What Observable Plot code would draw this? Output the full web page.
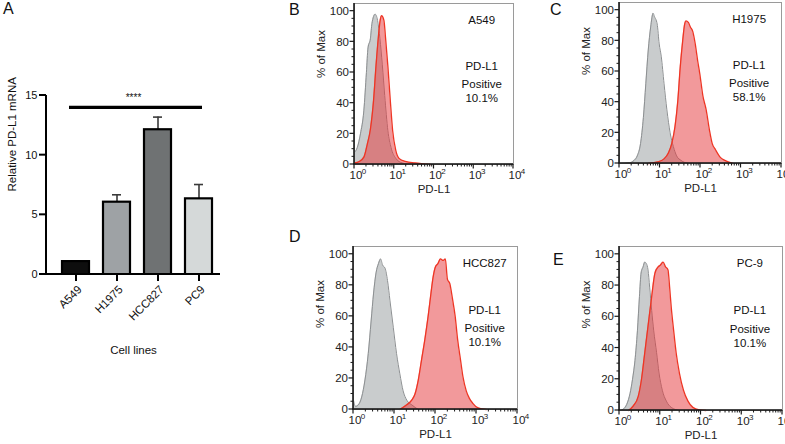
<!DOCTYPE html>
<html>
<head>
<meta charset="utf-8">
<script src="https://cdn.jsdelivr.net/npm/d3@7"></script>
<script src="https://cdn.jsdelivr.net/npm/@observablehq/plot@0.6"></script>
<style>
  html, body { margin: 0; padding: 0; background: #fff; }
  #fig { position: relative; width: 785px; height: 444px; background: #fff; overflow: hidden;
         font-family: "Liberation Sans", Arial, sans-serif; color: #222; }
  .panel { position: absolute; }
  .letter { position: absolute; font-size: 16px; line-height: 16px; color: #111; }
</style>
</head>
<body>
<div id="fig">
  <div class="letter" style="left:3px;top:1px">A</div>
  <div class="letter" style="left:289px;top:2px">B</div>
  <div class="letter" style="left:550px;top:2px">C</div>
  <div class="letter" style="left:289px;top:229px">D</div>
  <div class="letter" style="left:553px;top:252px">E</div>
</div>
<script>
const FONT = '"Liberation Sans", Arial, sans-serif';

// ---------- Panel A data ----------
const cells = ["A549", "H1975", "HCC827", "PC9"];
const mrna = [1.08, 6.06, 12.13, 6.34];
const mrnaErr = [1.15, 6.68, 13.19, 7.54];
const barColors = ["#0e0e0e", "#9ea2a5", "#6f7273", "#d5d9d9"];
const yTicksA = [0, 5, 10, 15];
const sigLevel = 14;
const sigText = "****";

// ---------- Histogram data: [log10(PD-L1), % of Max] ----------
const bGray = [[0,8],[0.07,11],[0.15,20],[0.235,35],[0.30,60],[0.34,76],[0.40,82],[0.44,92],[0.52,98],[0.58,94],[0.64,82],[0.70,65],[0.76,45],[0.84,22],[0.92,11],[1.04,4],[1.2,1],[1.44,0]];
const bRed = [[0,1],[0.12,2],[0.24,5],[0.32,13],[0.40,23],[0.48,42],[0.54,64],[0.60,83],[0.64,93],[0.68,97],[0.74,94],[0.78,83],[0.84,64],[0.90,42],[0.96,22],[1.04,9],[1.12,4],[1.28,2],[1.52,1],[1.92,0]];
const cGray = [[0,0],[0.25,0.5],[0.36,2],[0.44,5],[0.52,13],[0.59,30],[0.65,52],[0.71,74],[0.77,89],[0.83,98],[0.86,96],[0.93,91],[0.98,78],[1.03,70],[1.10,52],[1.17,35],[1.25,20],[1.33,11],[1.41,5],[1.52,2],[1.71,0]];
const cRed = [[0.71,0],[0.94,1],[1.10,3],[1.21,7],[1.29,13],[1.37,24],[1.44,41],[1.50,63],[1.56,80],[1.61,91],[1.64,93],[1.70,92],[1.75,89],[1.81,86],[1.87,78],[1.93,67],[1.98,59],[2.06,44],[2.14,35],[2.22,22],[2.29,13],[2.37,9],[2.49,4],[2.60,2],[2.80,0]];
const dGray = [[0,6],[0.05,2],[0.12,3],[0.20,8],[0.28,19],[0.36,36],[0.43,57],[0.49,75],[0.55,88],[0.61,94],[0.66,97],[0.71,93],[0.77,91],[0.83,83],[0.89,70],[0.97,53],[1.05,36],[1.13,23],[1.21,12],[1.30,6],[1.42,3],[1.58,0]];
const dRed = [[1.13,0],[1.30,3],[1.42,6],[1.50,10],[1.58,19],[1.66,32],[1.74,45],[1.82,60],[1.89,75],[1.94,85],[2.00,92],[2.06,94],[2.12,97],[2.19,96],[2.24,97],[2.29,84],[2.35,81],[2.41,72],[2.48,60],[2.54,45],[2.61,32],[2.67,21],[2.75,12],[2.83,7],[2.91,4],[3.04,1],[3.24,0]];
const eGray = [[0.02,0],[0.10,1],[0.18,4],[0.26,11],[0.32,20],[0.38,32],[0.44,51],[0.49,73],[0.53,88],[0.58,92],[0.62,95],[0.66,94],[0.70,90],[0.74,79],[0.79,64],[0.84,51],[0.91,37],[0.97,24],[1.05,13],[1.15,6],[1.27,2],[1.47,0]];
const eRed = [[0.22,0],[0.34,3],[0.46,9],[0.54,20],[0.62,37],[0.70,54],[0.79,73],[0.87,88],[0.95,92],[1.00,93],[1.07,95],[1.13,92],[1.19,90],[1.23,79],[1.27,66],[1.33,51],[1.39,37],[1.47,24],[1.57,13],[1.68,6],[1.80,2],[1.96,0.4],[2.12,0]];

const histNames = ["A549", "H1975", "HCC827", "PC-9"];
const histPositive = ["10.1%", "58.1%", "10.1%", "10.1%"];
const annLines = ["PD-L1", "Positive"];
const annX = 1585;               // PD-L1 value where the annotations sit
const annY = [94, 64, 52, 43];   // % of Max for each annotation line
const xMajor = [1, 10, 100, 1000, 10000];
const xMinor = [1, 10, 100, 1000].flatMap(d => [2,3,4,5,6,7,8,9].map(k => k * d));
const yMajor = [0, 20, 40, 60, 80, 100];
const yMinor = d3.range(5, 100, 5).filter(d => d % 20 !== 0);

const GRAY_FILL = "#c9cccd", GRAY_LINE = "#8c8f91";
const RED_FILL = "#e53337", RED_LINE = "#ee3524";
const AXIS = "#1a1a1a";

const fig = document.getElementById("fig");
function place(svg, left, top) {
  const div = document.createElement("div");
  div.className = "panel";
  div.style.left = left + "px";
  div.style.top = top + "px";
  div.appendChild(svg);
  fig.appendChild(div);
}

// ---------- Panel A ----------
const A = {width: 235, height: 444, mt: 95, mb: 170, ml: 46, mr: 15};
const AW = A.width - A.ml - A.mr, AH = A.height - A.mt - A.mb;
const rowsA = cells.map((cell, i) => ({cell, value: mrna[i], err: mrnaErr[i]}));
const plotA = Plot.plot({
  width: A.width, height: A.height,
  marginTop: A.mt, marginBottom: A.mb, marginLeft: A.ml, marginRight: A.mr,
  style: {fontFamily: FONT, fontSize: "11.5px", color: "#111", background: "transparent"},
  x: {domain: cells, paddingInner: 0.35, paddingOuter: 0.27, align: 0.667, axis: null},
  y: {domain: [0, 15], axis: null},
  color: {domain: cells, range: barColors},
  marks: [
    Plot.ruleX(rowsA, {x: "cell", y1: "value", y2: "err", stroke: "#3a3a3a", strokeWidth: 1.6}),
    Plot.tickY(rowsA, {x: "cell", y: "err", insetLeft: 9, insetRight: 9, stroke: "#3a3a3a", strokeWidth: 1.6}),
    // bar outline as a black rect under a slightly inset coloured rect
    Plot.barY(rowsA, {x: "cell", y: "value", fill: "#000", insetLeft: -1.1, insetRight: -1.1, insetTop: -1.1}),
    Plot.barY(rowsA, {x: "cell", y: "value", fill: "cell", insetLeft: 1.1, insetRight: 1.1, insetTop: 1.1}),
    // axes drawn as thin filled rects + text
    Plot.rect([0], {y1: 0, y2: 0, insetTop: -1, insetBottom: -1, insetLeft: -1, fill: "#000"}),
    Plot.rect([0], {y1: 0, y2: 15, insetLeft: -1, insetRight: AW - 1, insetBottom: -1, fill: "#000"}),
    Plot.rect(yTicksA, {y1: d => d, y2: d => d, insetTop: -1, insetBottom: -1, insetLeft: -7, insetRight: AW, fill: "#000"}),
    Plot.text(yTicksA, {y: d => d, text: d => String(d), frameAnchor: "left", textAnchor: "end", dx: -9, fontSize: 11}),
    Plot.rect(cells, {x: d => d, y1: 0, y2: 0, insetTop: -1, insetBottom: -7,
                      insetLeft: (AW * 0.6) , insetRight: 0, fill: "none"}),
    Plot.tickX(cells, {x: d => d, insetTop: AH, insetBottom: -7, stroke: "#000", strokeWidth: 2}),
    Plot.text(cells, {x: d => d, text: d => d, frameAnchor: "bottom", textAnchor: "end", lineAnchor: "middle", rotate: -45, dx: 4, dy: 13, fontSize: 11.5}),
    Plot.ruleY([sigLevel], {x1: () => cells[0], x2: () => cells[cells.length - 1], insetLeft: 7, insetRight: 10, stroke: "#000", strokeWidth: 3.3}),
    Plot.text([sigText], {text: d => d, y: [14.8], fontSize: 10}),
    Plot.text(["Cell lines"], {text: d => d, frameAnchor: "bottom", lineAnchor: "middle", dy: 76, fontSize: 11.5}),
    Plot.text(["Relative PD-L1 mRNA"], {text: d => d, frameAnchor: "left", rotate: -90, dx: -34.5, dy: 6.5, fontSize: 11.5})
  ]
});
place(plotA, 0, 0);

// ---------- Histogram panels ----------
function hist({gray, red, idx, width, height, mt, mr, mb, ml, labelDy}) {
  const W = width - ml - mr, H = height - mt - mb;
  const rows = arr => arr.map(([l, v]) => ({x: 10 ** l, v}));
  const ann = [histNames[idx], ...annLines, histPositive[idx]];
  return Plot.plot({
    width, height, marginTop: mt, marginRight: mr, marginBottom: mb, marginLeft: ml,
    style: {fontFamily: FONT, fontSize: "11.5px", color: "#222", background: "transparent"},
    x: {type: "log", domain: [1, 1e4], axis: null},
    y: {domain: [0, 105], axis: null},
    marks: [
      Plot.areaY(rows(gray), {x: "x", y: "v", fill: GRAY_FILL, curve: "monotone-x"}),
      Plot.lineY(rows(gray), {x: "x", y: "v", stroke: GRAY_LINE, strokeWidth: 1, curve: "monotone-x"}),
      Plot.areaY(rows(red), {x: "x", y: "v", fill: RED_FILL, fillOpacity: 0.5, curve: "monotone-x"}),
      Plot.lineY(rows(red), {x: "x", y: "v", stroke: RED_LINE, strokeWidth: 1.3, curve: "monotone-x"}),
      Plot.frame({stroke: "#9a9a9a", strokeWidth: 1}),
      // black left and bottom axis lines (filled rects)
      Plot.rect([0], {y1: 0, y2: 105, insetLeft: -0.8, insetRight: W - 0.8, fill: AXIS}),
      Plot.rect([0], {y1: 0, y2: 0, insetTop: -0.8, insetBottom: -0.8, insetLeft: -0.8, fill: AXIS}),
      // y ticks + labels
      Plot.rect(yMajor, {y1: d => d, y2: d => d, insetTop: -0.6, insetBottom: -0.6, insetLeft: -4.5, insetRight: W, fill: AXIS}),
      Plot.rect(yMinor, {y1: d => d, y2: d => d, insetTop: -0.5, insetBottom: -0.5, insetLeft: -2.5, insetRight: W, fill: AXIS}),
      Plot.text(yMajor, {y: d => d, text: d => String(d), frameAnchor: "left", textAnchor: "end", dx: -5.5, fontSize: 11.5}),
      // x ticks + labels (10 with superscript exponent)
      Plot.rect(xMajor, {x1: d => d, x2: d => d, insetLeft: -0.6, insetRight: -0.6, insetTop: H, insetBottom: -4.5, fill: AXIS}),
      Plot.rect(xMinor, {x1: d => d, x2: d => d, insetLeft: -0.5, insetRight: -0.5, insetTop: H, insetBottom: -2.5, fill: AXIS}),
      Plot.text(xMajor, {x: d => d, text: () => "10", frameAnchor: "bottom", lineAnchor: "middle", dx: 1.5, dy: 11, fontSize: 11.5}),
      Plot.text(xMajor, {x: d => d, text: d => String(Math.round(Math.log10(d))), frameAnchor: "bottom", lineAnchor: "middle", dx: 9.5, dy: 7, fontSize: 8}),
      // axis titles
      Plot.text(["% of Max"], {text: d => d, frameAnchor: "left", rotate: -90, dx: -33, dy: labelDy, fontSize: 11.5}),
      Plot.text(["PD-L1"], {text: d => d, frameAnchor: "bottom", lineAnchor: "middle", dy: 25, fontSize: 11.5}),
      Plot.text(ann, {text: d => d, x: () => annX, y: (d, i) => annY[i], fontSize: 11.5, fill: "#111"})
    ]
  });
}

place(hist({gray: bGray, red: bRed, idx: 0, width: 245, height: 215, mt: 3, mr: 22, mb: 51, ml: 64, labelDy: -6}), 290, 0);
place(hist({gray: cGray, red: cRed, idx: 1, width: 240, height: 215, mt: 2, mr: 4, mb: 52, ml: 74, labelDy: -8}), 545, 0);
place(hist({gray: dGray, red: dRed, idx: 2, width: 245, height: 214, mt: 16, mr: 18, mb: 35, ml: 63, labelDy: 0}), 290, 230);
place(hist({gray: eGray, red: eRed, idx: 3, width: 240, height: 214, mt: 16, mr: 3, mb: 34, ml: 74, labelDy: 0}), 545, 230);
</script>
</body>
</html>
